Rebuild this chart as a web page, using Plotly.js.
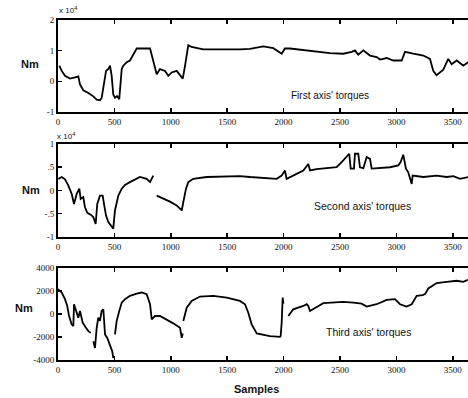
<!DOCTYPE html>
<html><head><meta charset="utf-8">
<script src="https://cdn.plot.ly/plotly-3.0.1.min.js"></script>
<style>html,body{margin:0;padding:0;background:#fff;}#chart{width:468px;height:398px;}</style>
</head><body><div id="chart"></div>
<script>
// Panel 1: first axis torques (x 10^4 Nm)
const x1 = [12,33,62,106,151,180,195,224,269,313,343,372,387,408,426,446,461,476,490,505,523,543,565,579,609,638,668,698,816,845,875,904,949,978,1008,1052,1106,1126,1155,1184,1288,1613,1702,1820,1909,1983,2012,2057,2205,2293,2411,2529,2604,2633,2662,2707,2766,2825,2855,2914,2973,3047,3076,3150,3239,3298,3327,3356,3416,3460,3490,3535,3593,3635];
const y1 = [0.51,0.34,0.18,0.09,0.13,0.16,-0.1,-0.29,-0.38,-0.49,-0.6,-0.62,-0.54,-0.04,0.34,0.4,0.51,0.18,-0.43,-0.54,-0.48,-0.58,0.4,0.51,0.62,0.68,0.9,1.07,1.07,0.68,0.23,0.4,0.34,0.18,0.29,0.34,0.09,0.5,1.18,1.12,1.04,1.04,1.06,1.14,1.08,0.9,1.07,1.07,1.01,0.96,0.92,0.9,0.96,1.01,0.87,1.01,0.84,0.79,0.71,0.76,0.68,0.68,0.96,0.9,0.84,0.73,0.34,0.2,0.38,0.73,0.56,0.68,0.51,0.62];
// Panel 2: second axis torques (x 10^4 Nm)
const x2 = [3,33,62,91,121,142,166,189,201,224,239,260,290,313,334,348,372,396,410,426,446,476,490,505,535,565,594,638,698,727,786,816,845,860,875,934,993,1052,1097,1111,1135,1155,1199,1318,1613,1702,1939,1983,2012,2027,2086,2175,2219,2234,2293,2382,2470,2515,2559,2582,2595,2624,2633,2662,2677,2707,2737,2766,2781,2855,2943,3017,3038,3061,3085,3105,3136,3144,3239,3357,3446,3505,3564,3635];
const y2 = [0.25,0.29,0.24,0.11,-0.07,-0.29,-0.07,0.04,-0.18,-0.14,-0.36,-0.48,-0.52,-0.57,-0.72,-0.29,-0.11,-0.11,-0.32,-0.54,-0.68,-0.79,-0.82,-0.43,-0.11,0.04,0.12,0.18,0.25,0.29,0.25,0.18,0.32,null,-0.11,-0.17,-0.24,-0.32,-0.43,-0.25,0.04,0.18,0.25,0.29,0.31,0.29,0.25,0.32,0.43,0.25,0.32,0.43,0.57,0.43,0.46,0.48,0.5,0.61,0.72,0.79,0.47,0.47,0.79,0.79,0.5,0.48,0.72,0.68,0.47,0.48,0.5,0.54,0.61,0.77,0.47,0.39,0.14,0.32,0.29,0.32,0.29,0.31,0.25,0.29];
// Panel 3: third axis torques (Nm)
const x3 = [0,33,62,82,98,121,136,142,166,180,195,219,248,269,290,300,313,328,343,357,372,387,402,408,417,437,461,481,490,497,505,520,543,565,594,638,698,742,786,816,831,860,904,964,1022,1082,1097,1106,1108,1111,1141,1185,1259,1377,1496,1613,1658,1687,1717,1762,1879,1968,1974,1983,1992,1999,2006,2042,2086,2175,2205,2219,2234,2352,2529,2618,2692,2737,2825,2914,2988,3032,3091,3136,3180,3233,3254,3283,3357,3446,3535,3593,3635];
const y3 = [2165,1870,1290,700,-175,-900,-1050,850,115,-320,260,-760,-1200,-1490,-1640,null,-2370,-2955,-1200,-320,-600,260,410,-760,-1780,-2080,-2800,-3245,-3830,null,-1780,-615,260,990,1290,1580,1780,1870,1730,850,-465,-175,-175,-465,-815,-1200,-2080,-1700,null,-615,550,1140,1520,1580,1430,1140,850,115,-900,-1690,-1930,-1990,-1930,-760,1430,900,null,-175,410,700,850,700,260,940,1050,990,900,640,850,1230,1290,850,640,850,1580,1640,1730,2220,2690,2800,2890,2800,2980,2740];

const xTickVals = [0,500,1000,1500,2000,2500,3000,3500];
const xTickText = ["0","500","1000","1500","2000","2500","3000","3500"];
const y1TickVals = [-1,0,1,2];
const y1TickText = ["-1","0","1","2"];
const y2TickVals = [-1,-0.5,0,0.5,1];
const y2TickText = ["-1","-.5","0",".5","1"];
const y3TickVals = [-4000,-2000,0,2000,4000];
const y3TickText = ["-4000","-2000","0","2000","4000"];

const lineStyle = {color:'#000', width:1.8};
const traces = [
  {x:x1, y:y1, xaxis:'x', yaxis:'y', type:'scatter', mode:'lines', line:lineStyle, connectgaps:false},
  {x:x2, y:y2, xaxis:'x2', yaxis:'y2', type:'scatter', mode:'lines', line:lineStyle, connectgaps:false},
  {x:x3, y:y3, xaxis:'x3', yaxis:'y3', type:'scatter', mode:'lines', line:lineStyle, connectgaps:false}
];

const tickFont = {family:'Liberation Serif, serif', size:9, color:'#111'};
function xa(anchor){
  return {anchor:anchor, range:[0,3635], tickvals:xTickVals, ticktext:xTickText, ticks:'inside', ticklen:4, tickwidth:1.5, tickcolor:'#000',
    showline:true, linecolor:'#000', linewidth:2, mirror:'ticks', showgrid:false, zeroline:false, tickfont:tickFont, fixedrange:true};
}
function ya(anchor, dom, rng, tv, tt){
  return {anchor:anchor, domain:dom, range:rng, tickvals:tv, ticktext:tt, ticks:'inside', ticklen:4, tickwidth:1.5, tickcolor:'#000',
    showline:true, linecolor:'#000', linewidth:2, showgrid:false, zeroline:false, tickfont:tickFont, fixedrange:true};
}
const ann = (t, x, y, size, bold) => ({text: bold ? '<b>'+t+'</b>' : t, x:x, y:y, xref:'paper', yref:'paper', showarrow:false,
  font:{family:'Liberation Sans, Arial, sans-serif', size:size, color:'#111'}, xanchor:'center', yanchor:'middle'});
// paper coords: plot area x 58..468 (410 px), y 20..360 (340 px)
const px = v => (v-58)/410;
const py = v => (360-v)/340;

const layout = {
  width:468, height:398, margin:{l:58, r:0, t:20, b:38},
  paper_bgcolor:'#fff', plot_bgcolor:'#fff', showlegend:false,
  xaxis: xa('y'), yaxis: ya('x', [0.7294,1], [-1,2], y1TickVals, y1TickText),
  xaxis2: xa('y2'), yaxis2: ya('x2', [0.3618,0.6353], [-1,1], y2TickVals, y2TickText),
  xaxis3: xa('y3'), yaxis3: ya('x3', [0,0.2706], [-4000,4000], y3TickVals, y3TickText),
  annotations: [
    ann("First axis' torques", px(330), py(95), 10, false),
    ann("Second axis' torques", px(362), py(206), 10.5, false),
    ann("Third axis' torques", px(368), py(332), 10.5, false),
    ann("Nm", px(30), py(64), 11, true),
    ann("Nm", px(31), py(190), 11, true),
    ann("Nm", px(24), py(308), 11, true),
    ann("Samples", px(256), py(389), 11, true),
    Object.assign(ann("x 10<sup>4</sup>", px(68), py(10), 8, false), {}),
    Object.assign(ann("x 10<sup>4</sup>", px(66), py(136), 8, false), {})
  ]
};
Plotly.newPlot('chart', traces, layout, {staticPlot:true, displayModeBar:false});
</script></body></html>
